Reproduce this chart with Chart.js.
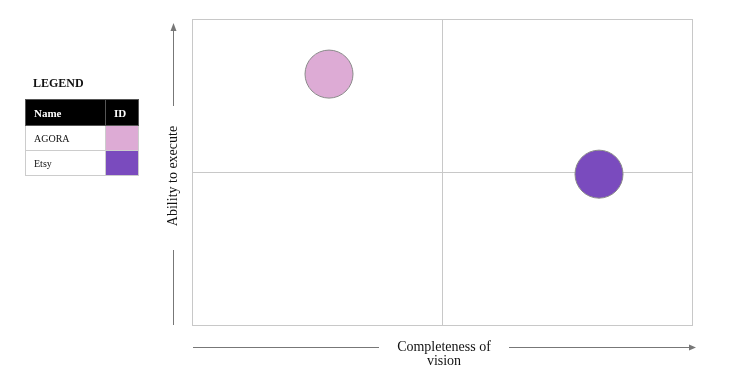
<!DOCTYPE html>
<html>
<head>
<meta charset="utf-8">
<script src="https://cdn.jsdelivr.net/npm/chart.js@4"></script>
<style>
 html,body{margin:0;padding:0;background:#fff;}
 #wrap{position:relative;width:730px;height:381px;}
 #legend{position:absolute;left:25px;top:76px;font-family:"Liberation Serif",serif;}
 #legend .ttl{font-size:12px;font-weight:bold;margin:0 0 8px 8px;color:#111;}
 #legend table{border-collapse:collapse;font-size:10px;}
 #legend th{background:#000;color:#fff;font-size:11px;text-align:left;height:25px;padding:0 8px;border:1px solid #555;}
 #legend td{height:24px;padding:0 8px;border:1px solid #ccc;color:#111;}
 #legend td.sw{width:16px;}
</style>
</head>
<body>
<div id="wrap">
 <canvas id="chart" width="730" height="381"></canvas>
 <div id="legend">
  <div class="ttl">LEGEND</div>
  <table id="legTable">
   <tr><th style="width:63px">Name</th><th>ID</th></tr>
  </table>
 </div>
</div>
<script>
/* ===== data ===== */
const names = ["AGORA","Etsy"];
const vision = [27.4, 81.4];     // x: completeness of vision
const execute = [82, 49.3];      // y: ability to execute
const sizes = [24, 24];
const colors = ["#DDABD5","#7A4BBE"];
const xTitle = ["Completeness of","vision"];
const yTitle = "Ability to execute";

/* ===== legend table ===== */
names.forEach((n,i)=>{
 const tr=document.createElement("tr");
 tr.innerHTML=`<td>${n}</td><td class="sw" style="background:${colors[i]}"></td>`;
 legTable.appendChild(tr);
});

/* bubbles may overflow the plot area, no auto padding */
Chart.registry.getController("bubble").prototype.getMaxOverflow=()=>false;

/* ===== axis arrows + titles ===== */
const arrows={
 id:"arrows",
 afterDraw(c){
  const ctx=c.ctx, a=c.chartArea;
  ctx.save();
  ctx.strokeStyle="#777";ctx.fillStyle="#777";ctx.lineWidth=1;
  // x axis
  const xm=(a.left+a.right)/2+2, yy=a.bottom+22.5;
  ctx.beginPath();
  ctx.moveTo(a.left+1,yy);ctx.lineTo(xm-65,yy);
  ctx.moveTo(xm+65,yy);ctx.lineTo(a.right+2,yy);
  ctx.stroke();
  ctx.beginPath();
  ctx.moveTo(a.right+4,yy);ctx.lineTo(a.right-3,yy-3);ctx.lineTo(a.right-3,yy+3);ctx.fill();
  // y axis
  const xx=a.left-18.5, ym=(a.top+a.bottom)/2+4;
  ctx.beginPath();
  ctx.moveTo(xx,a.bottom);ctx.lineTo(xx,ym+74);
  ctx.moveTo(xx,ym-70);ctx.lineTo(xx,a.top+10);
  ctx.stroke();
  ctx.beginPath();
  ctx.moveTo(xx,a.top+4);ctx.lineTo(xx-3,a.top+12);ctx.lineTo(xx+3,a.top+12);ctx.fill();
  // titles
  ctx.fillStyle="#111";
  ctx.font="14px 'Liberation Serif'";
  ctx.textAlign="center";ctx.textBaseline="middle";
  xTitle.forEach((t,i)=>ctx.fillText(t,xm,yy+i*14));
  ctx.translate(xx,ym);ctx.rotate(-Math.PI/2);
  ctx.fillText(yTitle,0,0);
  ctx.restore();
 }
};

/* ===== chart ===== */
new Chart(document.getElementById("chart"),{
 type:"bubble",
 data:{
  datasets:names.map((n,i)=>({
   label:n,
   data:[{x:vision[i],y:execute[i],r:sizes[i]}],
   backgroundColor:colors[i],
   borderColor:"#8a8a8a",
   borderWidth:1,
   clip:false
  }))
 },
 options:{
  responsive:false,
  animation:false,
  layout:{padding:{left:192,top:19,right:38,bottom:56}},
  plugins:{legend:{display:false},tooltip:{enabled:false}},
  scales:{
   x:{min:0,max:100,ticks:{display:false,stepSize:50},
      grid:{color:"#c8c8c8",drawTicks:false},border:{color:"#c8c8c8"}},
   y:{min:0,max:100,ticks:{display:false,stepSize:50},
      grid:{color:"#c8c8c8",drawTicks:false},border:{color:"#c8c8c8"}}
  }
 },
 plugins:[arrows]
});
</script>
</body>
</html>
